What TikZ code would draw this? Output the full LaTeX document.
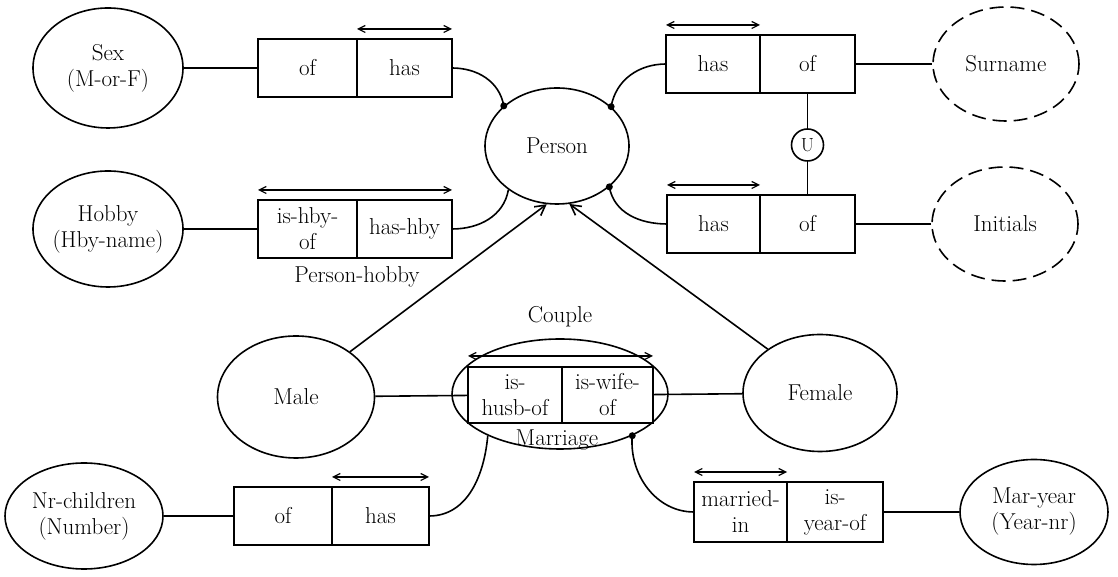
\documentclass[tikz,border=0pt]{standalone}
\usepackage{fontspec}
\usetikzlibrary{shapes.geometric, positioning, arrows.meta}

\tikzset{
  ent/.style={draw, ellipse, inner sep=-10pt, align=center},
  valent/.style={ent, dash pattern=on 14pt off 7pt},
  cell/.style={draw, rectangle, minimum height=58pt, inner xsep=1pt, inner ysep=2pt, outer sep=0pt, align=center},
  dbl/.style={{Straight Barb[length=7pt,width=7pt]}-{Straight Barb[length=7pt,width=7pt]}, line width=1.2pt},
}

\begin{document}
\begin{tikzpicture}[x=1pt, y=1pt, line width=1.6pt, >={Straight Barb[length=10pt,width=11pt]}, font=\fontsize{23}{26}\selectfont]
\useasboundingbox (0,0) rectangle (1118,577);

\node[ent, minimum width=150pt, minimum height=120pt] (sex) at (108,509) {Sex\\(M-or-F)};
\node[ent, minimum width=150pt, minimum height=116pt] (hobby) at (108,348) {Hobby\\(Hby-name)};
\node[ent, minimum width=144pt, minimum height=116pt] (person) at (557,431) {Person};
\node[valent, minimum width=146pt, minimum height=114pt] (surname) at (1006,513) {Surname};
\node[valent, minimum width=146pt, minimum height=114pt] (initials) at (1005,353) {Initials};
\node[ent, minimum width=157pt, minimum height=122pt] (male) at (296,180) {Male};
\node[ent, minimum width=154pt, minimum height=117pt] (female) at (820,184) {Female};
\node[ent, minimum width=158pt, minimum height=106pt] (nrchildren) at (84,61) {Nr-children\\(Number)};
\node[ent, minimum width=148pt, minimum height=105pt] (maryear) at (1034,65) {Mar-year\\(Year-nr)};

\node[cell, minimum width=99pt] (sexof) at (307.5,509) {of};
\node[cell, minimum width=95pt, right=0pt of sexof] (sexhas) {has};
\node[cell, minimum width=99pt] (hbyof) at (307.5,348) {is-hby-\\of};
\node[cell, minimum width=95pt, right=0pt of hbyof] (hbyhas) {has-hby};
\node[below=4pt] (phlbl) at (hbyof.south east) {Person-hobby};

\node[cell, minimum width=94pt] (snhas) at (713,513) {has};
\node[cell, minimum width=95pt, right=0pt of snhas] (snof) {of};
\node[cell, minimum width=93pt] (inhas) at (713.5,353) {has};
\node[cell, minimum width=95pt, right=0pt of inhas] (inof) {of};
\node[draw, circle, minimum size=32pt, inner sep=0pt, font=\fontsize{19}{21}\selectfont] (union) at (807.5,432) {U};

\node[draw, ellipse, minimum width=216pt, minimum height=110pt] (couple) at (560,183) {};
\node[cell, minimum width=94pt, minimum height=56pt] (husbof) at (515,182) {is-\\husb-of};
\node[cell, minimum width=91pt, minimum height=56pt, right=0pt of husbof] (wifeof) {is-wife-\\of};
\node (couplelbl) at (560,260) {Couple};
\node (marrlbl) at (557,137) {Marriage};

\node[cell, minimum width=98pt] (nrof) at (283,61) {of};
\node[cell, minimum width=97pt, right=0pt of nrof] (nrhas) {has};
\node[cell, minimum width=93pt, minimum height=60pt] (marin) at (740.5,65) {married-\\in};
\node[cell, minimum width=96pt, minimum height=60pt, right=0pt of marin] (yearof) {is-\\year-of};

\draw (sex) -- (sexof);
\draw (hobby) -- (hbyof);
\draw (snof) -- (surname);
\draw (inof) -- (initials);
\draw (snof) -- (union) -- (inof);
\draw (male) -- (husbof);
\draw (wifeof) -- (female);
\draw (nrchildren) -- (nrof);
\draw (yearof) -- (maryear);

\draw (sexhas.east) to[out=0, in=100] (person.143);
\draw (hbyhas.east) to[out=0, in=-100] (person.-138);
\draw (snhas.west) to[out=180, in=80] (person.36);
\draw (inhas.west) to[out=180, in=-80] (person.-38);
\draw (couple.-150) to[out=-95, in=0] (nrhas.east);
\draw (couple.-30) to[out=-95, in=180] (marin.west);

\fill (person.143) circle (3.5);
\fill (person.36) circle (3.5);
\fill (person.-38) circle (3.5);
\fill (couple.-30) circle (3.5);

\draw[->] (male.40) -- (person.-100);
\draw[->] (female.140) -- (person.-78);

\foreach \c in {sexhas, snhas, inhas, nrhas, marin}
  \draw[dbl] ([yshift=10pt]\c.north west) -- ([yshift=10pt]\c.north east);
\draw[dbl] ([yshift=10pt]hbyof.north west) -- ([yshift=10pt]hbyhas.north east);
\draw[dbl] ([yshift=11pt]husbof.north west) -- ([yshift=11pt]wifeof.north east);
\end{tikzpicture}
\end{document}
